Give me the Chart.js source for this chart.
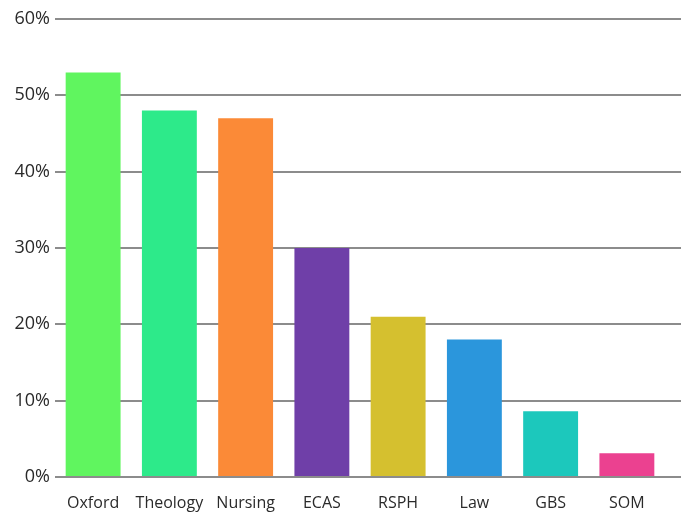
<!DOCTYPE html>
<html>
<head>
<meta charset="utf-8">
<script src="https://cdn.jsdelivr.net/npm/chart.js@4"></script>
<style>
html,body{margin:0;padding:0;background:#fff;}
#wrap{width:681px;height:513px;}
</style>
</head>
<body>
<div id="wrap"><canvas id="c" width="681" height="513"></canvas></div>
<script>
const categories = ["Oxford","Theology","Nursing","ECAS","RSPH","Law","GBS","SOM"];
const values = [53, 48, 47, 30, 21, 18, 8.6, 3.1];
const barColors = ["#60f55f","#2dea8a","#fb8a37","#6f3fa8","#d5c02f","#2b96dc","#1cc8bc","#eb4190"];
const yTicks = [0, 10, 20, 30, 40, 50, 60];

const extendGrid = {
  id: 'extendGrid',
  afterDraw(chart) {
    const ctx = chart.ctx, y = chart.scales.y, a = chart.chartArea;
    ctx.save();
    ctx.strokeStyle = '#8c8c8c';
    ctx.lineWidth = 2;
    yTicks.forEach(v => {
      const py = Math.round(y.getPixelForValue(v));
      ctx.beginPath();
      ctx.moveTo(a.right, py);
      ctx.lineTo(chart.width, py);
      ctx.stroke();
    });
    ctx.restore();
  }
};

new Chart(document.getElementById('c'), {
  type: 'bar',
  data: {
    labels: categories,
    datasets: [{
      data: values,
      backgroundColor: barColors,
      borderWidth: 0,
      barPercentage: 0.72,
      categoryPercentage: 1
    }]
  },
  options: {
    responsive: false,
    animation: false,
    devicePixelRatio: 1,
    layout: { padding: { top: 19, right: 16, left: 0, bottom: 0 } },
    plugins: { legend: { display: false }, tooltip: { enabled: false } },
    scales: {
      x: {
        grid: { display: false },
        border: { display: false },
        ticks: { color: '#2a2a2a', padding: 9, font: { family: 'Open Sans', size: 16 } },
        afterFit(s) { s.height = 36; }
      },
      y: {
        min: 0, max: 60,
        afterBuildTicks(s) { s.ticks = yTicks.map(v => ({ value: v })); },
        grid: { color: '#8c8c8c', lineWidth: 2, drawTicks: false },
        border: { display: false },
        ticks: {
          color: '#2a2a2a', padding: 5,
          font: { family: 'Open Sans', size: 18 },
          callback: v => v + '%'
        },
        afterFit(s) { s.width = 55; }
      }
    }
  },
  plugins: [extendGrid]
});
</script>
</body>
</html>
